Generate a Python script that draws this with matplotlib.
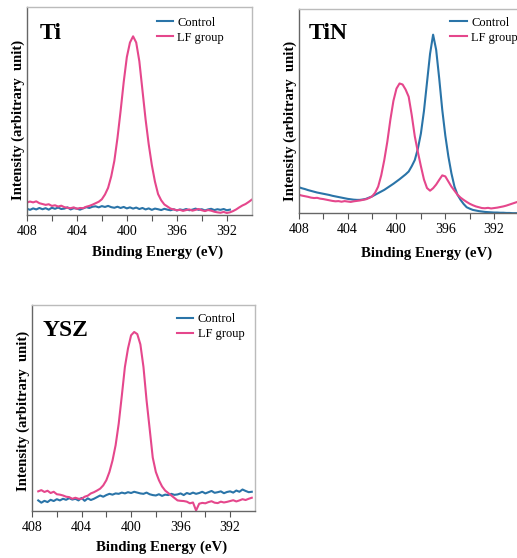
import numpy as np
import matplotlib
matplotlib.use("Agg")
import matplotlib.pyplot as plt

plt.rcParams['font.family'] = ['Liberation Serif', 'DejaVu Serif']

# ---------------- data (binding energy grid, eV) ----------------
energy = np.arange(408.0, 389.99, -0.25)   # 73 points, 408 -> 390

ti_lf = [5.9, 6.4, 6.0, 6.5, 5.6, 5.2, 4.8, 5.1, 4.3, 4.6, 4.0, 4.4, 3.7, 3.4, 3.2, 3.6,
         2.9, 3.3, 3.2, 3.9, 4.3, 4.9, 5.6, 6.3, 7.5, 9.8, 13.0, 18.5, 26.0, 37.0, 50.0, 64.0,
         76.0, 83.0, 86.0, 83.0, 74.0, 60.0, 46.0, 34.0, 24.0, 16.0, 10.0, 7.0, 5.0, 4.0, 3.0, 2.6,
         2.2, 2.4, 1.9, 2.3, 2.6, 2.0, 2.4, 2.8, 2.2, 1.8, 2.3, 2.0, 1.5, 1.2, 1.0, 1.4,
         0.9, 1.2, 1.8, 2.6, 3.6, 4.5, 5.2, 6.2, 7.3]
ti_ctrl = [3.0, 2.4, 3.1, 2.6, 3.3, 2.7, 3.2, 2.5, 3.4, 2.9, 3.5, 2.8, 3.0, 3.6, 2.6, 3.2,
           3.0, 2.5, 3.1, 3.7, 3.3, 3.9, 4.1, 3.6, 4.2, 3.8, 4.3, 3.7, 3.4, 3.9, 3.3, 3.8,
           3.1, 3.6, 3.0, 3.5, 2.8, 3.3, 2.6, 3.1, 2.4, 3.0, 2.7, 2.3, 2.9, 2.5, 2.2, 2.7,
           2.1, 2.6, 2.3, 2.8, 2.2, 2.5, 3.0, 2.4, 2.7, 2.1, 2.6, 2.9, 2.3, 2.7, 2.4, 2.8,
           2.2, 2.5, np.nan, np.nan, np.nan, np.nan, np.nan, np.nan, np.nan]

tin_lf = [9.0, 8.6, 8.3, 8.0, 7.6, 7.4, 7.5, 7.1, 6.9, 6.6, 6.3, 6.0, 5.8, 5.9, 5.6, 5.9,
          5.7, 5.5, 5.8, 6.0, 6.2, 6.5, 6.8, 7.4, 8.2, 10.0, 13.0, 18.5, 26.0, 35.0, 45.8, 55.0,
          61.0, 63.5, 63.0, 60.5, 57.0, 48.0, 37.6, 30.0, 23.0, 16.5, 12.3, 11.0, 12.2, 14.0, 16.3, 18.5,
          18.0, 15.5, 13.0, 11.0, 9.0, 7.6, 6.5, 5.5, 4.6, 3.9, 3.3, 2.9, 2.5, 2.4, 2.6, 2.3,
          2.5, 2.7, 3.0, 3.3, 3.7, 4.2, 4.7, 5.2, 5.7]
tin_ctrl = [12.7, 12.2, 11.8, 11.3, 10.9, 10.5, 10.1, 9.8, 9.5, 9.2, 8.9, 8.5, 8.2, 7.9, 7.6, 7.3,
            7.0, 6.8, 6.6, 6.5, 6.5, 6.7, 7.0, 7.6, 8.2, 9.0, 9.8, 10.6, 11.4, 12.4, 13.4, 14.4,
            15.5, 16.6, 17.8, 19.0, 20.4, 23.0, 26.0, 31.5, 39.0, 50.0, 64.0, 78.0, 87.4, 80.0, 66.0, 50.6,
            38.0, 27.8, 19.5, 13.0, 9.0, 6.5, 4.5, 2.9, 2.2, 1.6, 1.3, 1.0, 0.8, 0.6, 0.5, 0.4,
            0.3, 0.3, 0.2, 0.2, 0.1, 0.1, 0.0, 0.0, 0.0]

ysz_lf = [np.nan, np.nan, 9.6, 10.2, 9.3, 9.9, 8.8, 9.4, 8.2, 8.0, 7.6, 7.0, 6.8, 6.0, 6.5, 6.0,
          6.0, 7.0, 7.5, 8.6, 9.2, 10.0, 10.9, 12.5, 15.0, 19.0, 24.6, 32.0, 42.5, 56.0, 70.0, 79.0,
          85.4, 87.0, 86.0, 81.0, 70.0, 53.8, 40.0, 26.0, 19.0, 15.0, 12.0, 10.0, 8.8, 7.6, 6.4, 5.2,
          5.0, 4.9, 4.6, 3.8, 4.2, 0.3, 3.6, 4.0, 3.8, 4.4, 4.8, 4.1, 3.9, 4.6, 4.2, 4.5,
          4.9, 5.3, 4.7, 5.2, 5.8, 5.4, 6.0, 6.5, np.nan]
ysz_ctrl = [np.nan, np.nan, 5.2, 4.1, 5.0, 4.4, 5.5, 4.9, 5.8, 5.2, 6.0, 5.5, 6.3, 5.6, 6.0, 5.2,
            6.4, 5.0, 6.2, 5.4, 6.0, 6.8, 7.6, 7.0, 7.8, 8.4, 8.0, 8.6, 8.4, 9.0, 8.6, 9.2,
            8.8, 9.4, 9.0, 8.6, 8.4, 9.0, 8.2, 7.8, 7.6, 8.2, 7.4, 8.0, 7.8, 8.4, 7.9, 8.1,
            8.6, 7.8, 8.8, 8.3, 9.0, 8.4, 8.8, 9.4, 8.6, 9.2, 9.8, 8.9, 9.2, 9.6, 8.7, 9.3,
            9.6, 9.0, 10.0, 9.4, 10.5, 9.8, 9.2, 9.4, np.nan]

panel_titles = ["Ti", "TiN", "YSZ"]
series_labels = ["Control", "LF group"]
xticks_major = [408, 404, 400, 396, 392]
xticks_minor = [406, 402, 398, 394]
x_label = "Binding Energy (eV)"
y_label = "Intensity (arbitrary  unit)"

blue = "#2a74a8"
pink = "#e5478c"

fig = plt.figure(figsize=(5.17, 5.58), dpi=100)

positions = [
    [0.052, 0.615, 0.435, 0.372],
    [0.578, 0.618, 0.425, 0.366],
    [0.062, 0.084, 0.431, 0.369],
]
data = [(ti_ctrl, ti_lf), (tin_ctrl, tin_lf), (ysz_ctrl, ysz_lf)]
legend_anchor = [(0.578, 0.955), (0.69, 0.962), (0.65, 0.962)]
title_pos = [(0.058, 0.925), (0.046, 0.93), (0.045, 0.93)]
xlabel_y = [-0.178, -0.196, -0.175]
ylabel_y = [0.457, 0.45, 0.485]

for i, (pos, title, (ctrl, lf)) in enumerate(zip(positions, panel_titles, data)):
    ax = fig.add_axes(pos)
    ax.plot(energy, ctrl, color=blue, lw=1.5, label=series_labels[0])
    ax.plot(energy, lf, color=pink, lw=1.5, label=series_labels[1])
    ax.set_xlim(408, 390)
    ax.set_ylim(0, 100)
    ax.set_yticks([])
    ax.set_xticks(xticks_major)
    ax.set_xticks(xticks_minor, minor=True)
    ax.tick_params(axis='x', which='both', direction='out', length=4, width=0.8,
                   color='#555555', labelsize=10, pad=3)
    for s in ['left', 'bottom']:
        ax.spines[s].set_color('#666666')
        ax.spines[s].set_linewidth(1.0)
    for s in ['top', 'right']:
        ax.spines[s].set_color('#bbbbbb')
        ax.spines[s].set_linewidth(1.0)
    ax.set_xlabel(x_label, fontsize=10.7, fontweight='bold', va='center')
    ax.xaxis.set_label_coords(0.58, xlabel_y[i])
    ax.set_ylabel(y_label, fontsize=10.5, fontweight='bold', va='center')
    ax.yaxis.set_label_coords(-0.04, ylabel_y[i])
    ax.text(title_pos[i][0], title_pos[i][1], title, transform=ax.transAxes,
            fontsize=17, fontweight='bold', va='top', ha='left')
    ax.legend(loc='upper left', frameon=False, fontsize=9, handlelength=1.3,
              handletextpad=0.35, labelspacing=0.25, borderaxespad=0.0,
              borderpad=0.0, bbox_to_anchor=legend_anchor[i])

fig.savefig("out.png", dpi=100)
